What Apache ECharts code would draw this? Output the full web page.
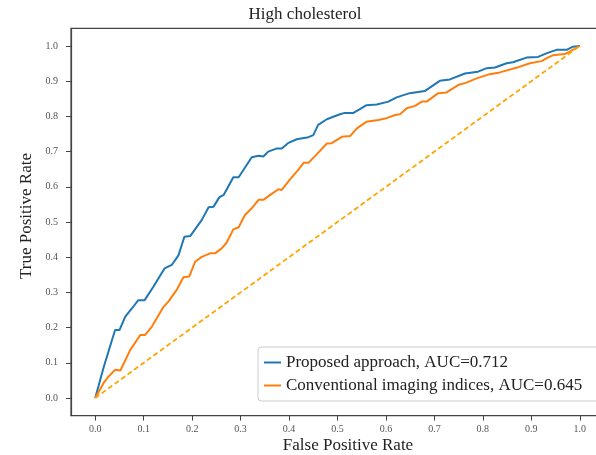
<!DOCTYPE html>
<html>
<head>
<meta charset="utf-8">
<script src="https://cdn.jsdelivr.net/npm/echarts@6/dist/echarts.min.js"></script>
<style>
  html, body { margin: 0; padding: 0; background: #fff; }
  #chart { width: 596px; height: 455px; }
</style>
</head>
<body>
<div id="chart"></div>
<script>
// ROC curve points (false positive rate, true positive rate)
const fprProposed = [0, 0.008, 0.017, 0.028, 0.041, 0.05, 0.062, 0.076, 0.089, 0.102, 0.12, 0.143, 0.158, 0.172, 0.184, 0.196, 0.22, 0.234, 0.244, 0.256, 0.265, 0.285, 0.296, 0.323, 0.337, 0.347, 0.357, 0.375, 0.385, 0.399, 0.416, 0.44, 0.45, 0.46, 0.478, 0.505, 0.515, 0.533, 0.56, 0.581, 0.605, 0.622, 0.649, 0.68, 0.711, 0.732, 0.763, 0.79, 0.808, 0.825, 0.849, 0.862, 0.89, 0.914, 0.931, 0.952, 0.973, 0.986, 1];
const tprProposed = [0, 0.04, 0.085, 0.135, 0.193, 0.193, 0.231, 0.255, 0.278, 0.278, 0.316, 0.368, 0.378, 0.406, 0.458, 0.46, 0.506, 0.542, 0.543, 0.57, 0.577, 0.627, 0.627, 0.684, 0.688, 0.686, 0.7, 0.709, 0.709, 0.725, 0.735, 0.741, 0.747, 0.776, 0.792, 0.806, 0.81, 0.81, 0.832, 0.834, 0.842, 0.854, 0.866, 0.872, 0.901, 0.905, 0.922, 0.927, 0.937, 0.939, 0.951, 0.954, 0.967, 0.969, 0.979, 0.989, 0.989, 0.998, 1];

const fprConventional = [0, 0.017, 0.028, 0.041, 0.052, 0.072, 0.093, 0.103, 0.117, 0.141, 0.151, 0.168, 0.182, 0.194, 0.206, 0.22, 0.237, 0.247, 0.261, 0.271, 0.285, 0.296, 0.309, 0.323, 0.337, 0.347, 0.364, 0.378, 0.385, 0.402, 0.419, 0.43, 0.44, 0.457, 0.478, 0.488, 0.509, 0.526, 0.54, 0.56, 0.584, 0.601, 0.619, 0.629, 0.643, 0.66, 0.674, 0.684, 0.708, 0.725, 0.749, 0.766, 0.787, 0.814, 0.835, 0.869, 0.897, 0.921, 0.931, 0.945, 0.969, 0.979, 1];
const tprConventional = [0, 0.042, 0.062, 0.08, 0.078, 0.136, 0.179, 0.179, 0.203, 0.259, 0.274, 0.307, 0.343, 0.345, 0.387, 0.401, 0.411, 0.411, 0.425, 0.441, 0.479, 0.485, 0.52, 0.539, 0.563, 0.563, 0.58, 0.593, 0.591, 0.621, 0.648, 0.668, 0.668, 0.692, 0.723, 0.724, 0.742, 0.744, 0.766, 0.785, 0.79, 0.795, 0.804, 0.806, 0.823, 0.83, 0.842, 0.842, 0.866, 0.868, 0.889, 0.896, 0.908, 0.92, 0.925, 0.938, 0.951, 0.957, 0.965, 0.974, 0.977, 0.984, 1];

// chance line
const fprChance = [0, 1];
const tprChance = [0, 1];

const seriesNames = ['Proposed approach, AUC=0.712', 'Conventional imaging indices, AUC=0.645'];
const tickValues = [0, 0.1, 0.2, 0.3, 0.4, 0.5, 0.6, 0.7, 0.8, 0.9, 1.0];
const titleText = 'High cholesterol';
const xTitle = 'False Positive Rate';
const yTitle = 'True Positive Rate';

const zip = (xs, ys) => xs.map((x, i) => [x, ys[i]]);
const serif = '"Liberation Serif", "DejaVu Serif", serif';

const axisCommon = {
  type: 'value',
  min: -0.05,
  max: 1.05,
  splitLine: { show: false },
  axisLine: { show: true, onZero: false, lineStyle: { color: '#444', width: 1.2 } },
  axisTick: { show: true, length: 5, inside: false, customValues: tickValues, lineStyle: { color: '#444', width: 1 } },
  axisLabel: {
    customValues: tickValues,
    formatter: v => v.toFixed(1),
    fontFamily: serif, fontSize: 10, color: '#555'
  }
};

const chart = echarts.init(document.getElementById('chart'), null, { renderer: 'canvas' });
chart.setOption({
  animation: false,
  backgroundColor: '#fff',
  grid: {
    left: 71, top: 28.4, width: 533, height: 387.2,
    outerBoundsMode: 'none',
    containLabel: false,
    show: true, borderColor: '#444', borderWidth: 1.2, backgroundColor: 'transparent'
  },
  xAxis: Object.assign({}, axisCommon, {
    axisLabel: Object.assign({}, axisCommon.axisLabel, { margin: 9 })
  }),
  yAxis: Object.assign({}, axisCommon, {
    axisLabel: Object.assign({}, axisCommon.axisLabel, { margin: 13 })
  }),
  legend: {
    orient: 'vertical',
    left: 258, top: 347,
    data: seriesNames,
    icon: 'rect',
    itemWidth: 17, itemHeight: 2,
    itemGap: 6,
    padding: [7, 40, 7, 6],
    borderColor: '#ccc', borderWidth: 1, borderRadius: 3,
    backgroundColor: 'rgba(255,255,255,0.85)',
    textStyle: { fontFamily: serif, fontSize: 17, color: '#222' }
  },
  graphic: [
    { type: 'text', x: 305, y: 6, style: { text: titleText, font: '17px ' + serif, fill: '#222', textAlign: 'center' } },
    { type: 'text', x: 348, y: 437, style: { text: xTitle, font: '17px ' + serif, fill: '#222', textAlign: 'center' } },
    { type: 'text', x: 27, y: 216, rotation: Math.PI / 2, style: { text: yTitle, font: '17px ' + serif, fill: '#222', textAlign: 'center', textVerticalAlign: 'middle' } }
  ],
  series: [
    {
      name: seriesNames[0], type: 'line', data: zip(fprProposed, tprProposed),
      showSymbol: false, color: '#1f77b4', lineStyle: { width: 2 }, z: 3
    },
    {
      name: seriesNames[1], type: 'line', data: zip(fprConventional, tprConventional),
      showSymbol: false, color: '#ff7f0e', lineStyle: { width: 2 }, z: 3
    },
    {
      name: 'chance', type: 'line', data: zip(fprChance, tprChance),
      showSymbol: false, color: '#ffa500', lineStyle: { width: 1.8, type: [5, 3] }, z: 4
    }
  ]
});
</script>
</body>
</html>
